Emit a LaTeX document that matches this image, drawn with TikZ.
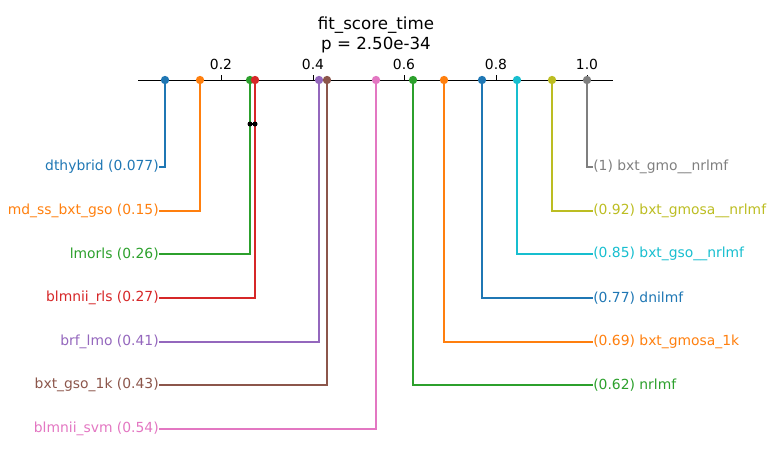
\documentclass[tikz,border=0pt]{standalone}
\usepackage{fontspec}
\setmainfont{DejaVu Sans}
\definecolor{cblue}{HTML}{1F77B4}
\definecolor{corange}{HTML}{FF7F0E}
\definecolor{cgreen}{HTML}{2CA02C}
\definecolor{cred}{HTML}{D62728}
\definecolor{cpurple}{HTML}{9467BD}
\definecolor{cbrown}{HTML}{8C564B}
\definecolor{cpink}{HTML}{E377C2}
\definecolor{cgray}{HTML}{7F7F7F}
\definecolor{colive}{HTML}{BCBD22}
\definecolor{ccyan}{HTML}{17BECF}
\begin{document}
\begin{tikzpicture}[x=0.72pt,y=-0.72pt,
  lbl/.style={font=\fontsize{10}{12}\selectfont, inner sep=0pt},
  lleft/.style={lbl, anchor=east},
  lright/.style={lbl, anchor=west},
  ticklbl/.style={font=\fontsize{10}{12}\selectfont, inner sep=0pt},
  titlelbl/.style={font=\fontsize{12}{14}\selectfont, inner sep=0pt},
  dot/.style={circle, fill, draw=none, inner sep=0pt, minimum size=6pt},
  smalldot/.style={circle, fill=black, draw=none, inner sep=0pt, minimum size=3.6pt},
  conn/.style={line width=1.1pt},
  axisline/.style={line width=0.6pt, black},
]
\useasboundingbox (0,0) rectangle (774,462);
% title
\node[titlelbl] (title) at (376,25) {fit\_score\_time};
\node[titlelbl] (pval) at (376,45) {p = 2.50e-34};
% axis
\coordinate (ax0) at (138,80);
\coordinate (ax1) at (613,80);
\draw[axisline] (ax0) -- (ax1);
\foreach \xx/\tt in {221/0.2,313/0.4,404/0.6,496/0.8,587/1.0}{
  \draw[axisline] (\xx,80) -- (\xx,74.5);
  \node[ticklbl] (tick\tt) at (\xx,64) {\tt};
}
% coordinates of markers
\coordinate (p1) at (165,80);
\coordinate (p2) at (200,80);
\coordinate (p3) at (250,80);
\coordinate (p4) at (255,80);
\coordinate (p5) at (319,80);
\coordinate (p6) at (327,80);
\coordinate (p7) at (376,80);
\coordinate (p8) at (413,80);
\coordinate (p9) at (444,80);
\coordinate (p10) at (482,80);
\coordinate (p11) at (517,80);
\coordinate (p12) at (552,80);
\coordinate (p13) at (587,80);
% left labels
\node[lleft, text=cblue] (l1) at (159,167) {dthybrid (0.077)};
\node[lleft, text=corange] (l2) at (159,211) {md\_ss\_bxt\_gso (0.15)};
\node[lleft, text=cgreen] (l3) at (159,254) {lmorls (0.26)};
\node[lleft, text=cred] (l4) at (159,298) {blmnii\_rls (0.27)};
\node[lleft, text=cpurple] (l5) at (159,342) {brf\_lmo (0.41)};
\node[lleft, text=cbrown] (l6) at (159,385) {bxt\_gso\_1k (0.43)};
\node[lleft, text=cpink] (l7) at (159,429) {blmnii\_svm (0.54)};
% right labels
\node[lright, text=cgray] (r1) at (593,167) {(1) bxt\_gmo\_\_nrlmf};
\node[lright, text=colive] (r2) at (593,211) {(0.92) bxt\_gmosa\_\_nrlmf};
\node[lright, text=ccyan] (r3) at (593,254) {(0.85) bxt\_gso\_\_nrlmf};
\node[lright, text=cblue] (r4) at (593,298) {(0.77) dnilmf};
\node[lright, text=corange] (r5) at (593,342) {(0.69) bxt\_gmosa\_1k};
\node[lright, text=cgreen] (r6) at (593,385) {(0.62) nrlmf};
% connectors
\draw[conn, cblue] (p1) |- (l1.east);
\draw[conn, corange] (p2) |- (l2.east);
\draw[conn, cgreen] (p3) |- (l3.east);
\draw[conn, cred] (p4) |- (l4.east);
\draw[conn, cpurple] (p5) |- (l5.east);
\draw[conn, cbrown] (p6) |- (l6.east);
\draw[conn, cpink] (p7) |- (l7.east);
\draw[conn, cgray] (p13) |- (r1.west);
\draw[conn, colive] (p12) |- (r2.west);
\draw[conn, ccyan] (p11) |- (r3.west);
\draw[conn, cblue] (p10) |- (r4.west);
\draw[conn, corange] (p9) |- (r5.west);
\draw[conn, cgreen] (p8) |- (r6.west);
% markers
\foreach \i/\c in {1/cblue,2/corange,3/cgreen,4/cred,5/cpurple,6/cbrown,7/cpink,8/cgreen,9/corange,10/cblue,11/ccyan,12/colive,13/cgray}{
  \node[dot, fill=\c] (m\i) at (p\i) {};
}
% crossbar
\coordinate (c1) at (250,124);
\coordinate (c2) at (255,124);
\draw[line width=1.5pt, black] (c1) -- (c2);
\node[smalldot] (cd1) at (c1) {};
\node[smalldot] (cd2) at (c2) {};
\end{tikzpicture}
\end{document}
